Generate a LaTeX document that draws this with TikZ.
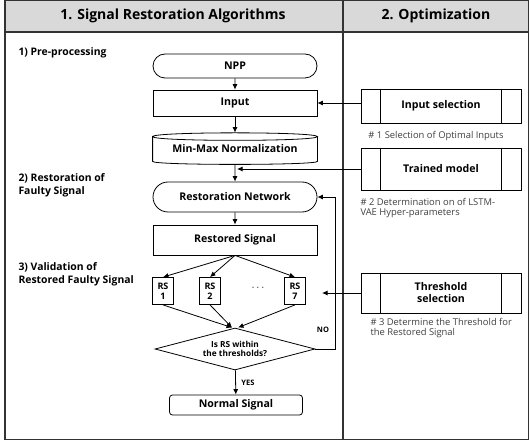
\documentclass[tikz,border=0pt]{standalone}
\usepackage{fontspec}
\setmainfont{Open Sans}
\usetikzlibrary{arrows.meta, shapes.geometric, shapes.misc}

\begin{document}
\begin{tikzpicture}[x=1pt, y=-1pt]
\tikzset{every node/.style = {font=\bfseries\fontsize{10.6}{12}\selectfont}}
\tikzset{box/.style = {shape=rectangle, draw, line width=0.8pt, minimum width=164pt, minimum height=30pt, inner sep=0pt}}
\tikzset{term/.style = {box, shape=rounded rectangle}}
\tikzset{rsbox/.style = {box, minimum width=21pt, minimum height=27pt, align=center, font=\bfseries\fontsize{9}{10.5}\selectfont}}
\tikzset{check/.style = {shape=diamond, draw, line width=0.8pt, aspect=3.8, minimum width=160pt, minimum height=42pt, inner sep=0pt, align=center, font=\bfseries\fontsize{8.3}{9.5}\selectfont}}
\tikzset{endbox/.style = {box, rounded corners=3pt, minimum width=133pt, minimum height=20pt}}
\tikzset{predef/.style = {box, minimum width=160pt, align=center}}
\tikzset{note/.style = {align=left, text=black!75, font=\fontsize{9.4}{10.5}\selectfont}}
\tikzset{part/.style = {anchor=west, align=left, font=\bfseries\fontsize{10.4}{13}\selectfont}}
\tikzset{head/.style = {font=\bfseries\fontsize{14}{17}\selectfont}}
\tikzset{tag/.style = {font=\bfseries\fontsize{7.5}{9}\selectfont}}
\tikzset{frame/.style = {line width=1.1pt, black!80}}
\tikzset{edge/.style = {->, > = {Latex[length=5.5pt, width=5pt]}, line width=0.8pt}}
\useasboundingbox (0,0) rectangle (529,443);

% frame
\fill[black!15] (5,0.5) rectangle (528.5,32);
\draw[frame] (5,0.5) rectangle (528.5,439.5);
\draw[frame] (5,32) -- (528.5,32);
\draw[frame] (343,0.5) -- (343,439.5);
\node[head] (h1) at (173,16) {1. Signal Restoration Algorithms};
\node[head] (h2) at (436,16) {2. Optimization};

% steps
\node[part] (p1) at (15,53) {1) Pre-processing};
\node[part] (p2) at (15,185) {2) Restoration of\\Faulty Signal};
\node[part] (p3) at (15,274) {3) Validation of\\Restored Faulty Signal};

% flow
\node[term, minimum height=24pt] (npp) at (235,66) {NPP};
\node[box, minimum height=26pt] (input) at (235,103) {Input};
\node[box, draw=none, minimum height=24pt] (minmax) at (235,149) {Min-Max Normalization};
\node[term] (resnet) at (235,197) {Restoration Network};
\node[box] (restored) at (235,240) {Restored Signal};
\node[rsbox] (rs1) at (163,291) {RS\\1};
\node[rsbox] (rs2) at (210,291) {RS\\2};
\node (dots) at (258,288) {$\cdots$};
\node[rsbox] (rs7) at (295,291) {RS\\7};
\node[check] (check) at (235,349) {Is RS within\\the thresholds?};
\node[endbox] (normal) at (236,405) {Normal Signal};
\node[tag] (no) at (323,330) {NO};
\node[tag] (yes) at (248,383) {YES};

% optimization
\node[predef, minimum height=34pt] (insel) at (441,106) {Input selection};
\node[predef, minimum height=42pt] (trained) at (441,169) {Trained model};
\node[predef, minimum height=40pt] (thsel) at (441,293) {Threshold\\selection};
\node[note] (n1) at (436,136) {\# 1 Selection of Optimal Inputs};
\node[note, anchor=west] (n2) at (357,208) {\# 2 Determination on of LSTM-\\VAE Hyper-parameters};
\node[note, anchor=west] (n3) at (367,328) {\# 3 Determine the Threshold for\\the Restored Signal};
\coordinate (tm) at (237,169);
\coordinate (thend) at (322,293);

% min-max drum
\draw[line width=0.8pt] (minmax.north west) .. controls +(0,-5) and +(0,-5) .. (minmax.north east)
  .. controls +(0,5) and +(0,5) .. (minmax.north west) -- (minmax.south west)
  .. controls +(0,4) and +(0,4) .. (minmax.south east) -- (minmax.north east);
\foreach \b in {insel,trained,thsel} {
  \draw[line width=0.8pt] ([xshift=20pt]\b.north west) -- ([xshift=20pt]\b.south west);
  \draw[line width=0.8pt] ([xshift=-20pt]\b.north east) -- ([xshift=-20pt]\b.south east);
}

%edges
\draw[edge] (npp) -- (input);
\draw[edge] (input.south) -- ([yshift=4pt]minmax.north);
\draw[edge] ([yshift=-3pt]minmax.south) -- (resnet);
\draw[edge] (resnet) -- (restored);
\foreach \r in {rs1,rs2,rs7}
  \draw[edge] (restored.south) -- (\r.north);
\draw[edge] (rs1.south) -- ([xshift=-3pt]check.north);
\draw[edge] (rs2.south) -- ([xshift=-3pt]check.north);
\draw[edge] (rs7.south) -- ([xshift=3pt]check.north);
\draw[edge] (check) -- (normal);
\draw[edge] (check.east) -- ++(20,0) |- (resnet.east);
\draw[edge] (input.east -| insel.west) -- (input.east);
\draw[edge] (trained.west) -- (tm);
\draw[edge] (thsel.west) -- (thend);
\end{tikzpicture}
\end{document}
